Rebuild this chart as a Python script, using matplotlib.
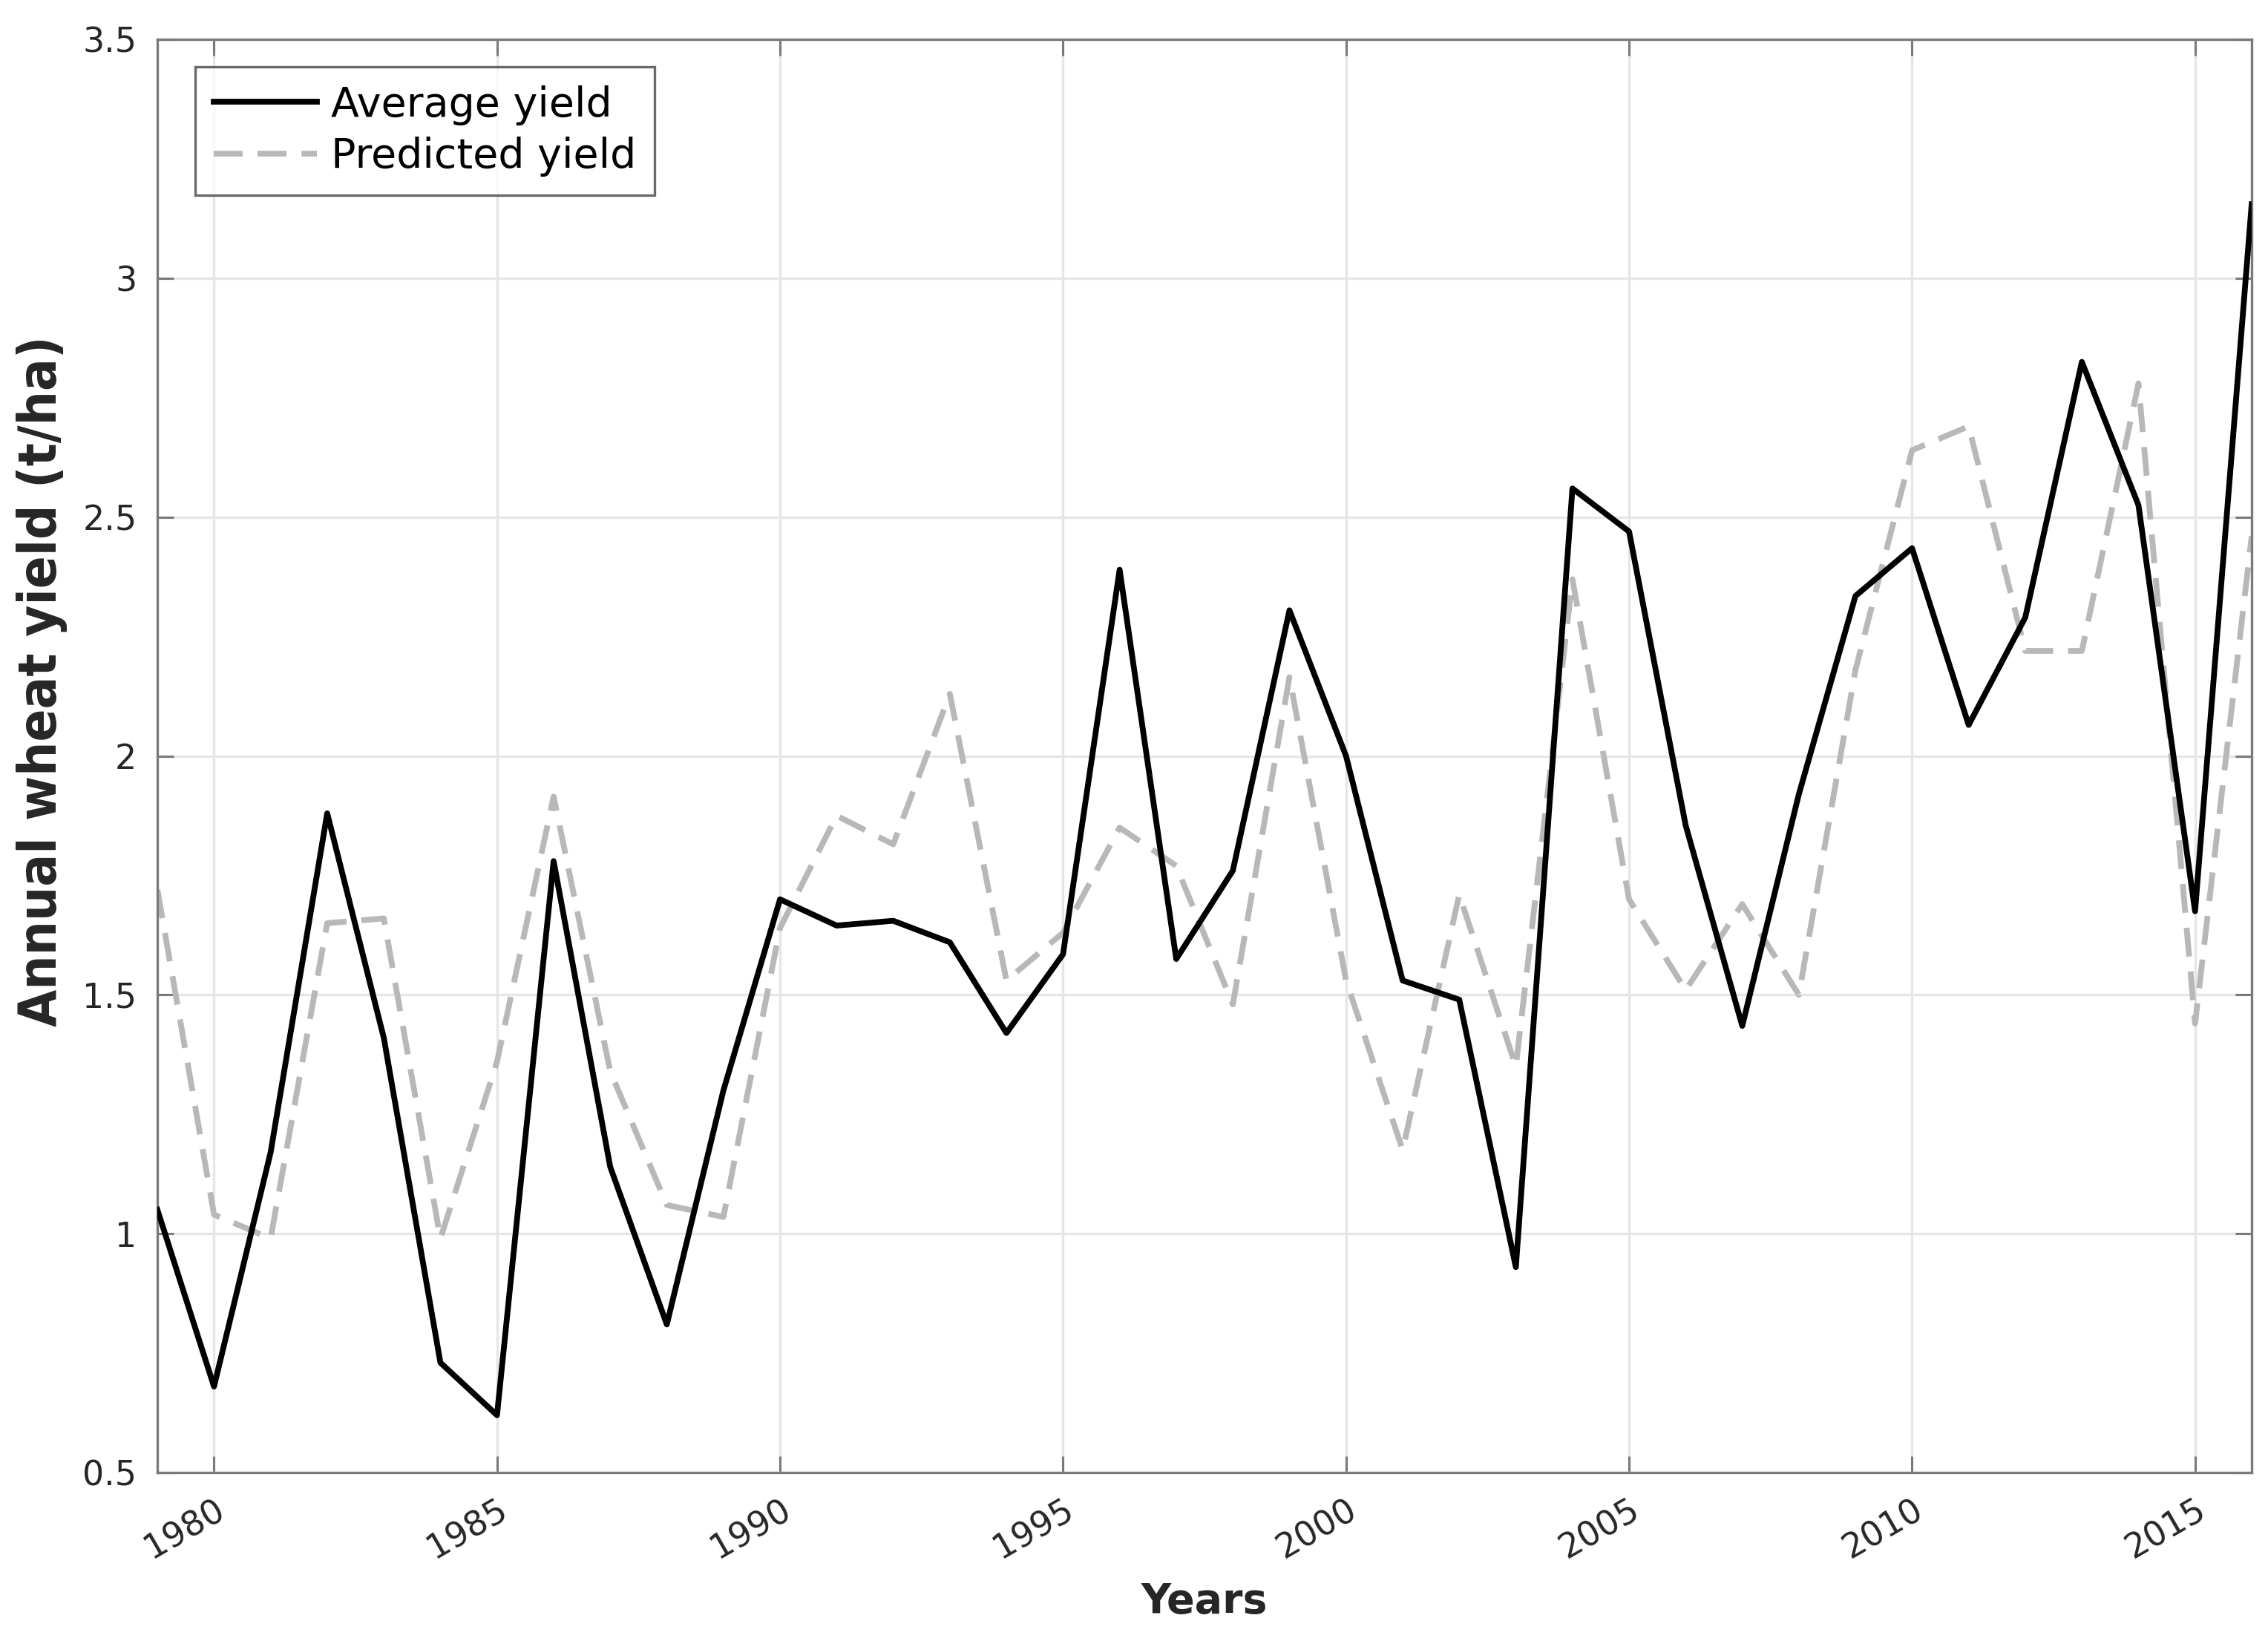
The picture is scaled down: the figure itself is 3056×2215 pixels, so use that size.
import matplotlib
matplotlib.use("Agg")
import matplotlib.pyplot as plt
from matplotlib.ticker import FuncFormatter

years = list(range(1979, 2017))
average_yield = [1.05, 0.68, 1.17, 1.88, 1.41, 0.73, 0.62, 1.78, 1.14, 0.81,
                 1.30, 1.70, 1.645, 1.655, 1.61, 1.42, 1.585, 2.39, 1.575, 1.76,
                 2.305, 2.00, 1.53, 1.49, 0.93, 2.56, 2.47, 1.855, 1.435, 1.92,
                 2.335, 2.435, 2.065, 2.29, 2.825, 2.525, 1.675, 3.155]
predicted_yield = [1.72, 1.04, 0.99, 1.65, 1.66, 0.99, 1.36, 1.915, 1.34, 1.06,
                   1.035, 1.64, 1.875, 1.815, 2.13, 1.53, 1.63, 1.85, 1.77, 1.48,
                   2.165, 1.53, 1.175, 1.71, 1.35, 2.37, 1.70, 1.51, 1.69, 1.50,
                   2.18, 2.64, 2.69, 2.22, 2.22, 2.78, 1.44, 2.46]
x_ticks = [1980, 1985, 1990, 1995, 2000, 2005, 2010, 2015]
y_ticks = [0.5, 1, 1.5, 2, 2.5, 3, 3.5]

fig = plt.figure(figsize=(15.28, 11.075), dpi=200)
ax = fig.add_axes([0.0694, 0.1043, 0.9234, 0.8717])

ax.plot(years, average_yield, color="black", lw=2.8, label="Average yield", zorder=3)
ax.plot(years, predicted_yield, color="#b8b8b8", lw=2.8, dashes=(5.0, 2.6),
        label="Predicted yield", zorder=2)

ax.set_xlim(1979, 2016)
ax.set_ylim(0.5, 3.5)
ax.set_xticks(x_ticks)
ax.set_yticks(y_ticks)
ax.yaxis.set_major_formatter(FuncFormatter(lambda v, p: f"{v:g}"))

ax.grid(True, color="#e6e6e6", lw=1.2)
ax.set_axisbelow(True)
for s in ax.spines.values():
    s.set_color("#7a7a7a")
    s.set_linewidth(1.2)
ax.tick_params(direction="in", top=True, right=True, length=8, width=1.1,
               color="#7a7a7a", labelsize=16.5, labelcolor="#262626", pad=10)
for lab in ax.get_xticklabels():
    lab.set_rotation(30)
    lab.set_ha("right")
    lab.set_rotation_mode("anchor")

ax.set_xlabel("Years", fontsize=20, fontweight="bold", color="#262626", labelpad=8)
ax.set_ylabel("Annual wheat yield (t/ha)", fontsize=26, fontweight="bold",
              family="DejaVu Sans", fontstretch="condensed", color="#262626")
ax.yaxis.set_label_coords(-0.043, 0.552)

leg = ax.legend(loc="upper left", bbox_to_anchor=(0.018, 0.981), fontsize=20,
                frameon=True, fancybox=False, edgecolor="#444444", handlelength=2.5,
                borderpad=0.45, labelspacing=0.28, handletextpad=0.35, borderaxespad=0)
leg.get_frame().set_linewidth(1.2)

fig.savefig("out.png", dpi=200)
